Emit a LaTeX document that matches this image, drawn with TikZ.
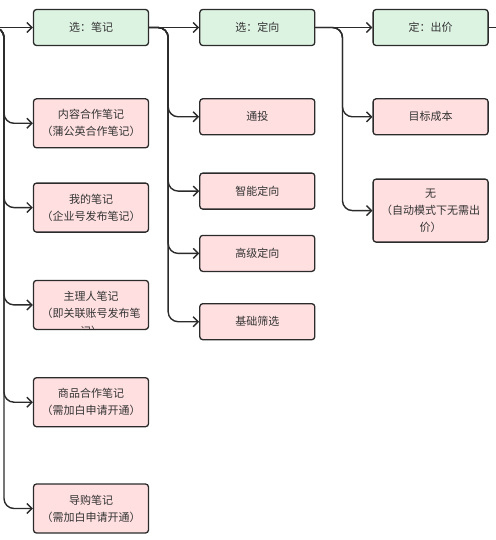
\documentclass[tikz,border=0pt]{standalone}
\usepackage{fontspec}
\newfontfamily\cjk{Noto Sans CJK SC}
\usetikzlibrary{arrows.meta}
\usetikzlibrary{positioning}
\definecolor{edge}{HTML}{2B2B2B}
\definecolor{greenfill}{HTML}{DDF3E2}
\definecolor{pinkfill}{HTML}{FFDFE0}
\definecolor{txt}{HTML}{333333}

\begin{document}
\begin{tikzpicture}[x=1pt, y=-1pt,
      font=\cjk\fontsize{11}{17}\selectfont, text=txt,
      main/.style={rectangle, rounded corners=3pt, draw=edge, fill=greenfill, line width=1.3pt, minimum width=115pt, minimum height=36pt, align=center},
      item/.style={rectangle, rounded corners=3pt, draw=edge, fill=pinkfill, line width=1.3pt, minimum width=115pt, minimum height=36pt, align=center},
      arrow/.style={-{Straight Barb[length=5pt,width=10pt]}, draw=edge, line width=1.4pt, rounded corners=10pt}
      ]
      \useasboundingbox (0,0) rectangle (495,540);

      % Nodes
      \node[main] (S1) at (91,27.5) {选：笔记};
      \node[item, minimum height=49pt, below=52pt of S1] (N1) {内容合作笔记\\（蒲公英合作笔记）};
      \node[item, minimum height=49pt, below=34pt of N1] (N2) {我的笔记\\（企业号发布笔记）};
      \node[item, minimum height=49pt, below=47pt of N2] (N3) {主理人笔记\\（即关联账号发布笔};
      \node[item, minimum height=49pt, below=47pt of N3] (N4) {商品合作笔记\\（需加白申请开通）};
      \node[item, minimum height=49pt, below=56pt of N4] (N5) {导购笔记\\（需加白申请开通）};

      % overflowing last line, cut by the box
      \begin{scope}
        \clip ([shift={(0.7pt,0.7pt)}]N3.south west) rectangle ([shift={(-0.7pt,-0.7pt)}]N3.north east);
        \node[inner sep=0pt] (N3b) at ([yshift=-26pt]N3.center) {记）};
      \end{scope}

      \node[main, right=50pt of S1] (S2) {选：定向};
      \node[item, below=52pt of S2] (T1) {通投};
      \node[item, below=37pt of T1] (T2) {智能定向};
      \node[item, below=25pt of T2] (T3) {高级定向};
      \node[item, below=31pt of T3] (T4) {基础筛选};

      \node[main, right=57pt of S2] (S3) {定：出价};
      \node[item, below=52pt of S3] (U1) {目标成本};
      \node[item, minimum height=63pt, below=43pt of U1] (U2) {无\\（自动模式下无需出\\价）};

      \coordinate (in) at (-8,27.5);
      \coordinate (out) at (502,27.5);

      % Arrows
      \draw[arrow] (in) -- (S1);
      \foreach \n in {N1,N2,N3,N4,N5}
        \draw[arrow] (in) -- (4,27.5) |- (\n.west);
      \draw[arrow] (S1) -- (S2);
      \foreach \n in {T1,T2,T3,T4}
        \draw[arrow] (S1.east) -- ++(19,0) |- (\n.west);
      \draw[arrow] (S2) -- (S3);
      \foreach \n in {U1,U2}
        \draw[arrow] (S2.east) -- ++(27,0) |- (\n.west);
      \draw[arrow, -] (S3) -- (out);

    \end{tikzpicture}
\end{document}
